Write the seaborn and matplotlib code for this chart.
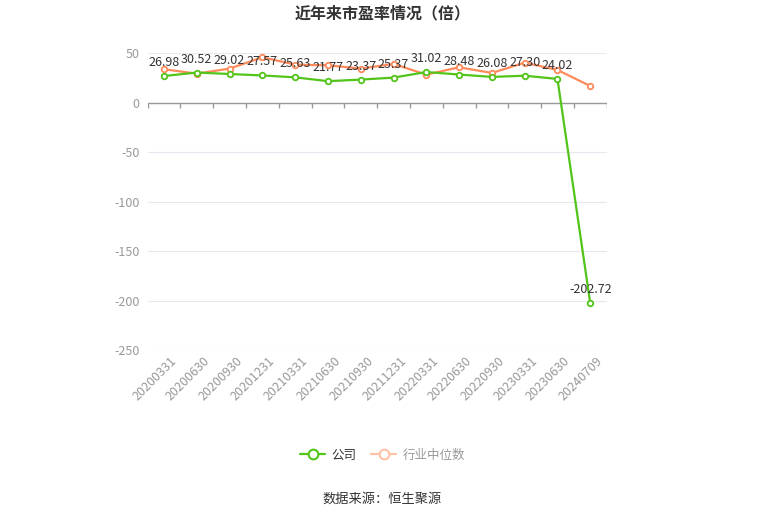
import numpy as np
import pandas as pd
import matplotlib
matplotlib.use("Agg")
import matplotlib.pyplot as plt
import matplotlib.transforms as mtransforms
import seaborn as sns

# ==========================================================
#                       DATA
# ==========================================================
dates = ["20200331", "20200630", "20200930", "20201231", "20210331",
         "20210630", "20210930", "20211231", "20220331", "20220630",
         "20220930", "20230331", "20230630", "20240709"]
company_pe = [26.98, 30.52, 29.02, 27.57, 25.63, 21.77, 23.37, 25.37,
              31.02, 28.48, 26.08, 27.30, 24.02, -202.72]
industry_pe = [33.8, 29.4, 34.5, 45.9, 38.5, 37.8, 34.5, 39.2,
               28.4, 35.8, 30.1, 40.5, 33.1, 16.9]
y_ticks = [50, 0, -50, -100, -150, -200, -250]

GREEN = "#52c41a"
ORANGE = "#ff8a5b"

sns.set_theme(style="white")
plt.rcParams["font.family"] = ["Noto Sans CJK SC", "DejaVu Sans"]

df = pd.DataFrame({"date": dates, "公司": company_pe, "行业中位数": industry_pe})
df["x"] = np.arange(len(dates))

fig = plt.figure(figsize=(7.65, 5.17), dpi=100)
ax = fig.add_axes([0.193, 0.323, 0.6, 0.574])

sns.lineplot(data=df, x="x", y="行业中位数", ax=ax, color=ORANGE, lw=1.6,
             marker="o", markersize=4, markerfacecolor="white",
             markeredgecolor=ORANGE, markeredgewidth=1.3, zorder=3)
sns.lineplot(data=df, x="x", y="公司", ax=ax, color=GREEN, lw=1.6,
             marker="o", markersize=4, markerfacecolor="white",
             markeredgecolor=GREEN, markeredgewidth=1.3, zorder=4)

# value labels above company points
for xi, v in zip(df["x"], company_pe):
    ax.annotate(f"{v:.2f}", (xi, v), xytext=(0, 5), textcoords="offset points",
                ha="center", va="bottom", fontsize=9, color="#333333", zorder=5)

ax.set_xlim(-0.5, len(dates) - 0.5)
ax.set_ylim(-250, 50)
ax.set_yticks(y_ticks)
ax.set_yticklabels([str(t) for t in y_ticks], fontsize=9, color="#999999")
ax.set_xticks(df["x"])
ax.set_xticklabels(dates, rotation=45, ha="right", rotation_mode="anchor",
                   fontsize=9, color="#999999")
ax.tick_params(axis="y", length=0, pad=6)
ax.tick_params(axis="x", length=0, pad=3)
shift = mtransforms.ScaledTranslation(6 / 100, 0, fig.dpi_scale_trans)
for lab in ax.get_xticklabels():
    lab.set_transform(lab.get_transform() + shift)
ax.set_xlabel("")
ax.set_ylabel("")
for s in ax.spines.values():
    s.set_visible(False)
ax.grid(axis="y", color="#e6e9f0", lw=0.8)
ax.set_axisbelow(True)

# category axis line at zero with boundary ticks
ax.axhline(0, color="#999999", lw=1, zorder=2)
ax.vlines(np.arange(len(dates) + 1) - 0.5, 0, -5, color="#999999", lw=1, zorder=2)

fig.text(0.5, 0.975, "近年来市盈率情况（倍）", ha="center", va="center",
         fontsize=11.5, fontweight="bold", color="#333333")

handles = [
    plt.Line2D([], [], color=GREEN, lw=1.6, marker="o", markersize=7,
               markerfacecolor="white", markeredgecolor=GREEN, markeredgewidth=1.5),
    plt.Line2D([], [], color="#ffc2a8", lw=1.6, marker="o", markersize=7,
               markerfacecolor="white", markeredgecolor="#ffc2a8", markeredgewidth=1.5),
]
leg = fig.legend(handles, ["公司", "行业中位数"], loc="center", ncol=2,
                 bbox_to_anchor=(0.5, 0.12), frameon=False, fontsize=9,
                 handlelength=2.0, columnspacing=1.2, handletextpad=0.5)
leg.get_texts()[0].set_color("#333333")
leg.get_texts()[1].set_color("#999999")

fig.text(0.5, 0.035, "数据来源：恒生聚源", ha="center", va="center",
         fontsize=9.5, color="#333333")

fig.savefig("out.png", dpi=100)
